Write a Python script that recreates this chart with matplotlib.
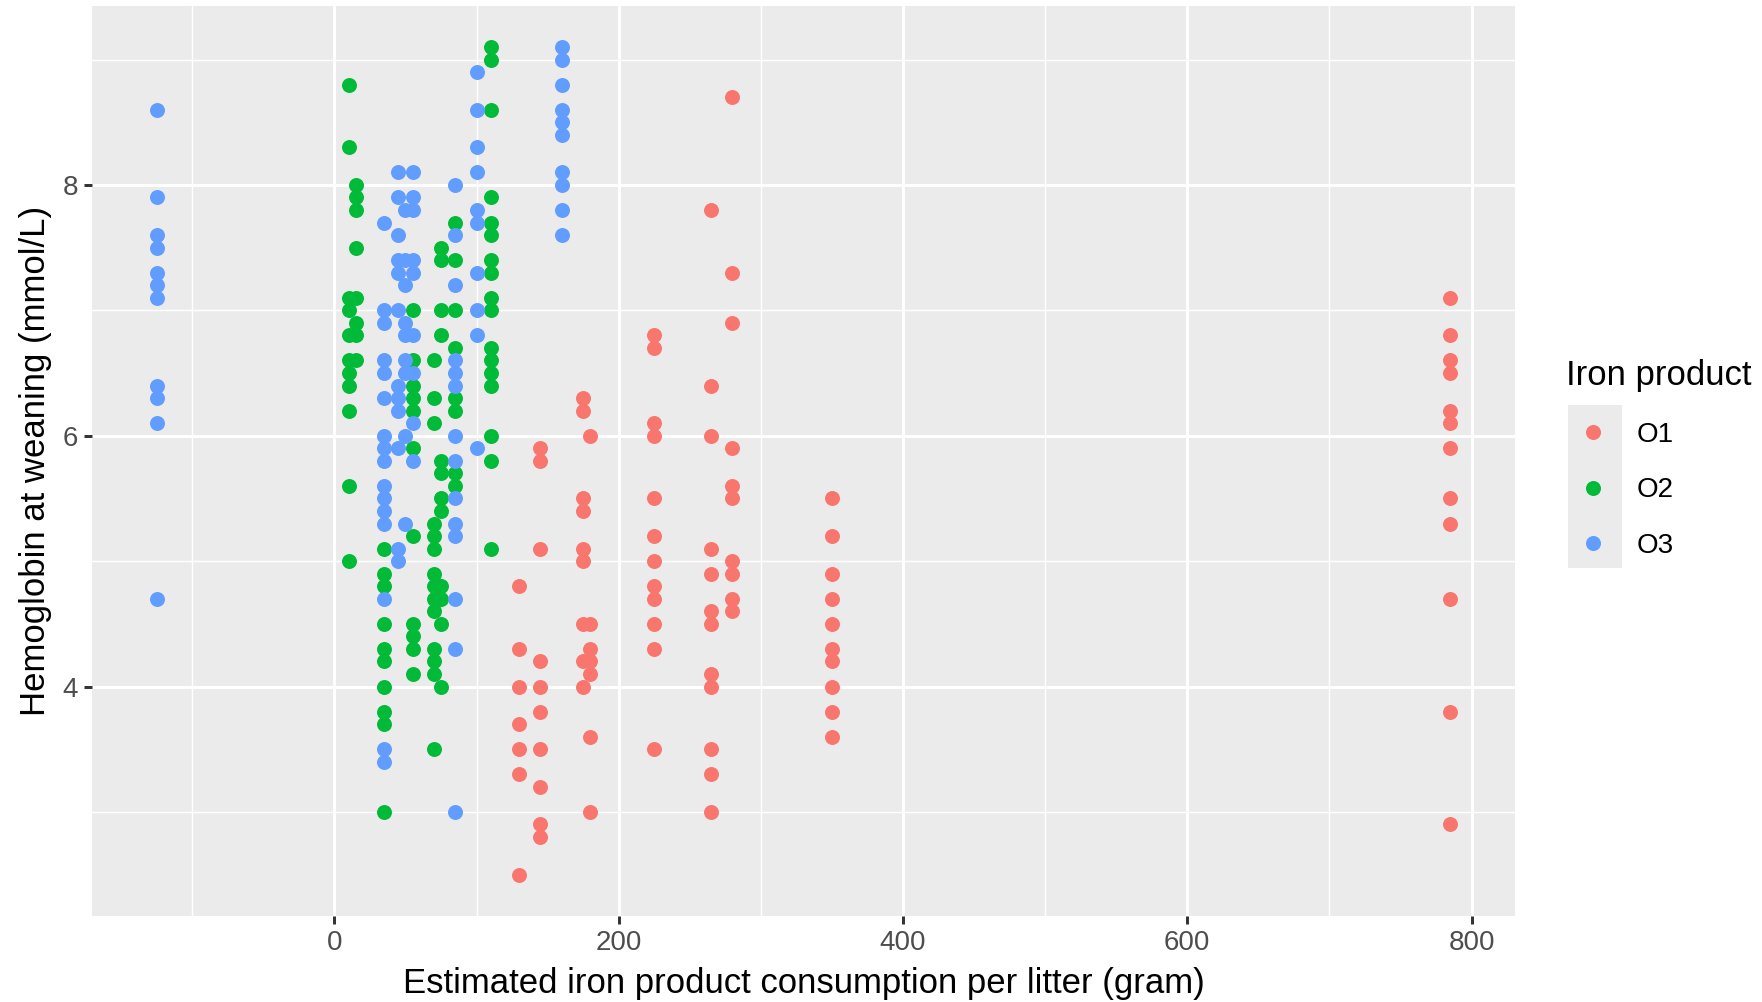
import matplotlib
matplotlib.use("Agg")
import matplotlib.pyplot as plt
from matplotlib.lines import Line2D
from matplotlib.patches import Rectangle

plt.rcParams['font.family'] = ['Liberation Sans', 'DejaVu Sans']

# hemoglobin values per consumption level, one dict per iron product
o1_hb = {
    130: [4.8, 4.3, 4.0, 3.7, 3.5, 3.3, 2.5],
    145: [5.9, 5.8, 5.1, 4.2, 4.0, 3.8, 3.5, 3.2, 2.9, 2.8],
    175: [6.3, 6.2, 5.5, 5.4, 5.1, 5.0, 4.5, 4.2, 4.0],
    180: [6.0, 4.5, 4.3, 4.2, 4.1, 3.6, 3.0],
    225: [6.8, 6.7, 6.1, 6.0, 5.5, 5.2, 5.0, 4.8, 4.7, 4.5, 4.3, 3.5],
    265: [7.8, 6.4, 6.0, 5.1, 4.9, 4.6, 4.5, 4.1, 4.0, 3.5, 3.3, 3.0],
    280: [8.7, 7.3, 6.9, 5.9, 5.6, 5.5, 5.0, 4.9, 4.7, 4.6],
    350: [5.5, 5.2, 4.9, 4.7, 4.5, 4.3, 4.2, 4.0, 3.8, 3.6],
    785: [7.1, 6.8, 6.6, 6.5, 6.2, 6.1, 5.9, 5.5, 5.3, 4.7, 3.8, 2.9],
}
o2_hb = {
    10: [8.8, 8.3, 7.1, 7.0, 6.8, 6.6, 6.5, 6.4, 6.2, 5.6, 5.0],
    15: [8.0, 7.9, 7.8, 7.5, 7.1, 6.9, 6.8, 6.6],
    35: [5.1, 4.9, 4.8, 4.5, 4.3, 4.2, 4.0, 3.8, 3.7, 3.0],
    55: [7.0, 6.6, 6.4, 6.3, 6.2, 5.9, 5.2, 4.5, 4.4, 4.3, 4.1],
    70: [6.6, 6.3, 6.1, 5.3, 5.2, 5.1, 4.9, 4.8, 4.7, 4.6, 4.3, 4.2, 4.1, 3.5],
    75: [7.5, 7.4, 7.0, 6.8, 5.8, 5.7, 5.5, 5.4, 4.8, 4.7, 4.5, 4.0],
    85: [7.7, 7.4, 7.0, 6.7, 6.3, 6.2, 5.7, 5.6],
    110: [9.1, 9.0, 8.6, 7.9, 7.7, 7.6, 7.4, 7.3, 7.1, 7.0, 6.7, 6.6, 6.5,
          6.4, 6.0, 5.8, 5.1],
}
o3_hb = {
    -125: [8.6, 7.9, 7.6, 7.5, 7.3, 7.2, 7.1, 6.4, 6.3, 6.1, 4.7],
    35: [7.7, 7.0, 6.9, 6.6, 6.5, 6.3, 6.0, 5.9, 5.8, 5.6, 5.5, 5.4, 5.3,
         4.7, 3.5, 3.4],
    45: [8.1, 7.9, 7.6, 7.4, 7.3, 7.0, 6.4, 6.3, 6.2, 5.9, 5.1, 5.0],
    50: [7.8, 7.4, 7.2, 6.9, 6.8, 6.6, 6.5, 6.0, 5.3],
    55: [8.1, 7.9, 7.8, 7.4, 7.3, 6.8, 6.5, 6.1, 5.8],
    85: [8.0, 7.6, 7.2, 6.6, 6.5, 6.4, 6.0, 5.8, 5.5, 5.3, 5.2, 4.7, 4.3, 3.0],
    100: [8.9, 8.6, 8.3, 8.1, 7.8, 7.7, 7.3, 7.0, 6.8, 5.9],
    160: [9.1, 9.0, 8.8, 8.6, 8.5, 8.4, 8.1, 8.0, 7.8, 7.6],
}

products = ['O1', 'O2', 'O3']
colors = ['#F8766D', '#00BA38', '#619CFF']

fig = plt.figure(figsize=(8.81, 5.01), dpi=200)
ax = fig.add_axes([0.0522, 0.0858, 0.8076, 0.9086])
ax.set_facecolor('#EBEBEB')

for name, col, data in zip(products, colors, [o1_hb, o2_hb, o3_hb]):
    xs = []
    ys = []
    for x, vals in data.items():
        xs += [x] * len(vals)
        ys += vals
    ax.scatter(xs, ys, s=29, color=col, linewidths=0, zorder=3)

ax.set_xlim(-170.5, 830.5)
ax.set_ylim(2.17, 9.43)
ax.set_xticks([0, 200, 400, 600, 800])
ax.set_xticks([-100, 100, 300, 500, 700], minor=True)
ax.set_yticks([4, 6, 8])
ax.set_yticks([3, 5, 7, 9], minor=True)
ax.grid(which='major', color='white', linewidth=1.07)
ax.grid(which='minor', color='white', linewidth=0.53)
ax.set_axisbelow(True)
for sp in ax.spines.values():
    sp.set_visible(False)
ax.tick_params(which='major', length=2.75, width=1.07, color='#333333',
               labelsize=10, labelcolor='#4D4D4D', pad=2.2)
ax.tick_params(which='minor', length=0)

ax.set_xlabel('Estimated iron product consumption per litter (gram)',
              fontsize=12.5, color='black', labelpad=4)
ax.set_ylabel('Hemoglobin at weaning (mmol/L)', fontsize=12.5, color='black',
              labelpad=4)

# legend with grey key background like ggplot
fig.patches.append(Rectangle((1568 / 1762, 1 - 568 / 1002), 54 / 1762, 163 / 1002,
                             transform=fig.transFigure, facecolor='#EBEBEB',
                             edgecolor='none', zorder=0))
handles = [Line2D([], [], marker='o', linestyle='none', markersize=5.4,
                  markerfacecolor=c, markeredgewidth=0) for c in colors]
leg = fig.legend(handles, products, title='Iron product', loc='upper left',
                 bbox_to_anchor=(0.889, 0.642), frameon=False, fontsize=10,
                 title_fontsize=12.5, borderpad=0, labelspacing=1.07,
                 handlelength=1.94, handletextpad=0.6, borderaxespad=0)
leg._legend_box.align = 'left'
leg._legend_box.sep = 10.8

fig.savefig('out.png', dpi=200)
